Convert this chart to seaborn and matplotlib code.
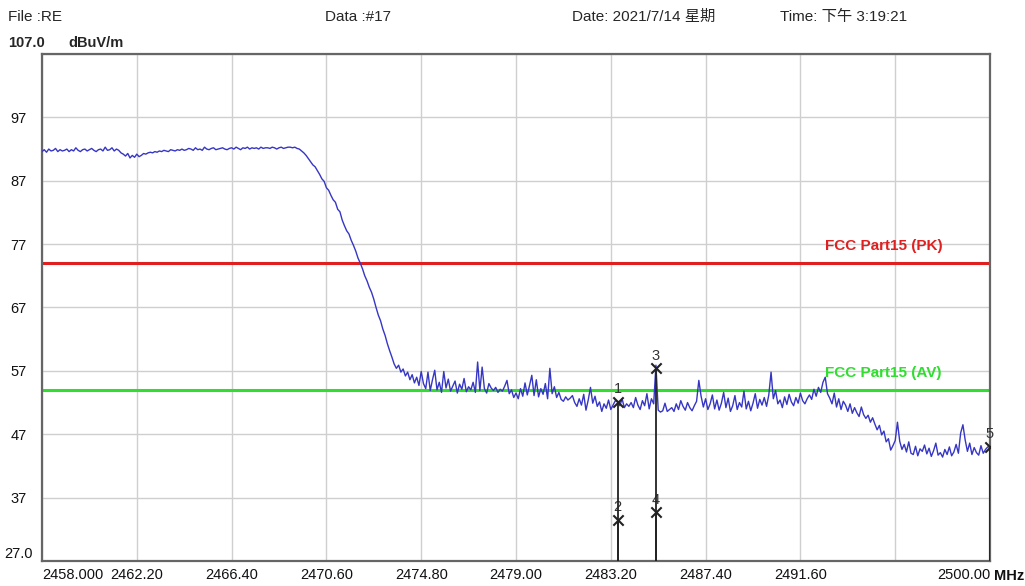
import numpy as np
import matplotlib
matplotlib.use("Agg")
import matplotlib.pyplot as plt
import seaborn as sns

# sweep levels, 0.1 MHz steps from 2458.0 to 2500.0 (one row per MHz)
level = [
    91.6, 91.9, 91.5, 92.0, 91.7, 91.8, 92.1, 91.6, 91.9, 91.7,
    91.8, 92.0, 91.6, 91.9, 91.7, 92.2, 91.8, 91.6, 91.9, 92.0,
    91.7, 91.9, 92.1, 91.8, 91.6, 91.9, 92.0, 91.7, 92.3, 91.8,
    91.9, 92.2, 91.7, 92.0, 91.8, 91.4, 91.2, 90.9, 91.3, 90.6,
    91.0, 90.7, 91.2, 90.8, 91.0, 91.3, 91.2, 91.4, 91.5, 91.4,
    91.6, 91.5, 91.7, 91.6, 91.8, 91.7, 91.6, 91.9, 91.8, 91.7,
    91.9, 91.8, 92.0, 91.8, 91.9, 92.1, 92.0, 91.8, 92.2, 91.9,
    92.0, 91.8, 92.3, 92.0, 91.9, 92.1, 92.2, 91.9, 92.0, 92.1,
    92.2, 92.0, 91.9, 92.1, 92.2, 92.0, 92.3, 92.1, 91.9, 92.2,
    92.1, 92.3, 92.0, 92.2, 92.1, 92.2, 92.0, 92.3, 92.1, 92.2,
    92.2, 92.1, 92.3, 92.2, 92.0, 92.2, 92.3, 92.1, 92.2, 92.3,
    92.3, 92.2, 92.3, 92.1, 92.0, 91.7, 91.4, 91.0, 90.5, 90.0,
    89.5, 89.2, 88.6, 88.0, 87.3, 86.9, 85.9, 85.5, 84.7, 84.0,
    83.6, 82.5, 82.1, 80.8, 79.9, 79.1, 78.6, 77.6, 76.8, 75.9,
    74.8, 74.0, 73.1, 72.0, 71.2, 70.2, 69.4, 68.3, 67.0, 65.8,
    64.9, 63.6, 62.6, 61.3, 60.2, 59.2, 58.1, 57.4, 57.9, 56.8,
    57.3, 56.2, 56.8, 55.6, 56.4, 55.1, 56.0, 54.7, 56.9, 55.0,
    54.2, 56.8, 53.9, 55.6, 57.1, 54.0, 55.2, 53.6, 56.9, 54.3,
    55.7, 53.8, 54.6, 55.4, 53.5, 54.9, 54.1, 55.8, 53.7, 54.5,
    54.0, 55.2, 53.6, 58.4, 53.9, 57.6, 54.2, 53.5, 55.0, 54.3,
    53.9, 54.4, 53.6, 54.1, 53.8, 54.6, 55.5, 53.4, 54.0, 52.8,
    53.5, 52.6, 54.2, 53.0, 55.1, 53.2, 54.7, 56.3, 53.1, 55.6,
    52.9, 54.2, 53.3, 55.0, 52.6, 57.4, 53.4, 54.5, 52.8, 53.6,
    52.5, 52.2, 52.9, 52.4, 52.7, 53.1, 52.0, 51.4, 52.6, 51.6,
    53.3, 50.8, 52.4, 54.4, 51.9, 53.0, 51.4, 52.1, 50.6, 51.8,
    51.1, 52.4, 50.9, 51.6, 52.3, 52.1, 51.5, 52.6, 51.2, 51.8,
    51.4, 52.0, 51.2, 52.8, 51.6, 50.9, 52.3, 51.5, 53.4, 51.0,
    52.6, 51.8, 57.9, 50.8, 50.5, 50.7, 51.9, 50.6, 50.9, 51.2,
    50.6, 51.8, 50.9, 52.3, 51.4, 50.8, 52.0, 51.2, 50.7, 51.5,
    52.2, 55.5, 53.0, 51.3, 52.6, 50.9, 51.8, 53.2, 51.0, 52.4,
    50.8, 51.9, 53.6, 51.2, 52.7, 50.6, 51.5, 53.1, 50.9, 52.0,
    51.3, 53.8, 51.0, 52.2, 50.7, 51.9, 53.4, 51.1, 52.5, 51.6,
    52.8, 51.4, 53.2, 56.8, 52.6, 53.9, 51.8, 52.4, 51.2, 52.9,
    51.7, 53.3, 52.1, 51.5, 52.8, 51.9, 53.5, 52.3, 51.8, 52.6,
    53.2, 52.5, 54.1, 53.0, 54.4, 53.6, 55.2, 56.0, 53.4, 52.7,
    51.8, 53.5, 51.3, 52.6, 50.9, 52.2, 51.6, 50.6, 51.8, 50.3,
    51.2, 50.4, 49.8, 51.3, 50.1, 49.5, 50.0, 48.9, 49.6, 48.6,
    47.7, 48.4, 46.9, 47.5, 45.8, 46.3, 44.5, 45.2, 46.0, 48.9,
    45.9, 44.6, 45.4, 44.2, 45.8, 44.0, 43.8, 45.1, 43.6, 44.7,
    44.3, 45.3, 43.9, 44.8, 43.5, 44.4, 45.6, 43.7, 44.1, 43.4,
    44.6, 43.8, 45.0, 43.6, 44.2, 45.4, 44.0, 47.2, 48.5, 46.1,
    44.3, 45.6, 43.8, 44.9, 44.1, 43.7, 45.2, 44.0, 44.6, 45.0,
    45.0,
]
freq = np.linspace(2458.0, 2500.0, len(level))

limit_names = ["FCC Part15 (PK)", "FCC Part15 (AV)"]
limit_values = [74.0, 54.0]
limit_colors = ["#e02020", "#30dd30"]

marker_ids = ["1", "2", "3", "4", "5"]
marker_freq = [2483.5, 2483.5, 2485.2, 2485.2, 2500.0]
marker_level = [52.1, 33.5, 57.4, 34.7, 45.0]

x_ticks = [2458.0 + 4.2 * i for i in range(11)]
x_labels = ["2458.000", "2462.20", "2466.40", "2470.60", "2474.80", "2479.00",
            "2483.20", "2487.40", "2491.60", "", "2500.00"]
y_ticks = [27, 37, 47, 57, 67, 77, 87, 97, 107]
y_labels = ["27.0", "37", "47", "57", "67", "77", "87", "97", ""]

sns.set_theme(style="white")
plt.rcParams["font.family"] = ["Liberation Sans", "Noto Sans CJK SC", "DejaVu Sans"]

fig = plt.figure(figsize=(10.25, 5.86), dpi=100)
ax = fig.add_axes([42 / 1025, 25 / 586, 948 / 1025, 507 / 586])

sns.lineplot(x=freq, y=level, ax=ax, color="#3636c4", linewidth=1.0,
             estimator=None, zorder=3)

for name, val, col in zip(limit_names, limit_values, limit_colors):
    ax.axhline(val, color=col, linewidth=2.2, zorder=2)
    ax.text(2492.7, val + 1.6, name, color=col, fontsize=11, fontweight="bold",
            ha="left", va="bottom")

# marker drop lines
for f, lv in zip(marker_freq, marker_level):
    ax.vlines(f, 27, lv, color="#222222", linewidth=1.3, zorder=4)

sns.scatterplot(x=marker_freq, y=marker_level, ax=ax, marker="x", color="#222222",
                s=55, linewidth=1.5, zorder=5)
for mid, f, lv in zip(marker_ids, marker_freq, marker_level):
    ax.annotate(mid, (f, lv), xytext=(0, 4), textcoords="offset points",
                ha="center", va="bottom", fontsize=10.5, color="#333333")

ax.set_xlim(2458.0, 2500.0)
ax.set_ylim(27, 107)
ax.set_xticks(x_ticks)
ax.set_xticklabels(x_labels, fontsize=10.5)
ax.set_yticks(y_ticks)
ax.set_yticklabels(y_labels, fontsize=10.5)
ax.tick_params(axis="both", length=0, colors="#111111")
ax.tick_params(axis="x", pad=5)
ax.tick_params(axis="y", pad=17)
for lab in ax.get_yticklabels():
    lab.set_ha("center")
ax.get_yticklabels()[0].set_va("bottom")
xl = ax.get_xticklabels()
xl[0].set_ha("left")
xl[-1].set_ha("right")

ax.grid(True, color="#cfcfcf", linewidth=1.0)
ax.set_axisbelow(True)
for side, sp in ax.spines.items():
    sp.set_color("#666666")
    sp.set_linewidth(1.6)

ax.annotate("MHz", (1.0, 0.0), xycoords="axes fraction", xytext=(3, -6),
            textcoords="offset points", ha="left", va="top", fontsize=10.5,
            fontweight="bold", color="#111111")

# header lines
fig.text(8 / 1025, 1 - 17 / 586, "File :RE", fontsize=11, va="center")
fig.text(325 / 1025, 1 - 17 / 586, "Data :#17", fontsize=11, va="center")
fig.text(572 / 1025, 1 - 17 / 586, "Date: 2021/7/14 星期", fontsize=11, va="center")
fig.text(780 / 1025, 1 - 17 / 586, "Time: 下午 3:19:21", fontsize=11, va="center")
fig.text(8 / 1025, 1 - 43 / 586, "107.0", fontsize=10.5, fontweight="bold", va="center")
fig.text(68 / 1025, 1 - 43 / 586, "dBuV/m", fontsize=10.5, fontweight="bold", va="center")

fig.savefig("out.png", dpi=100, facecolor="white")
